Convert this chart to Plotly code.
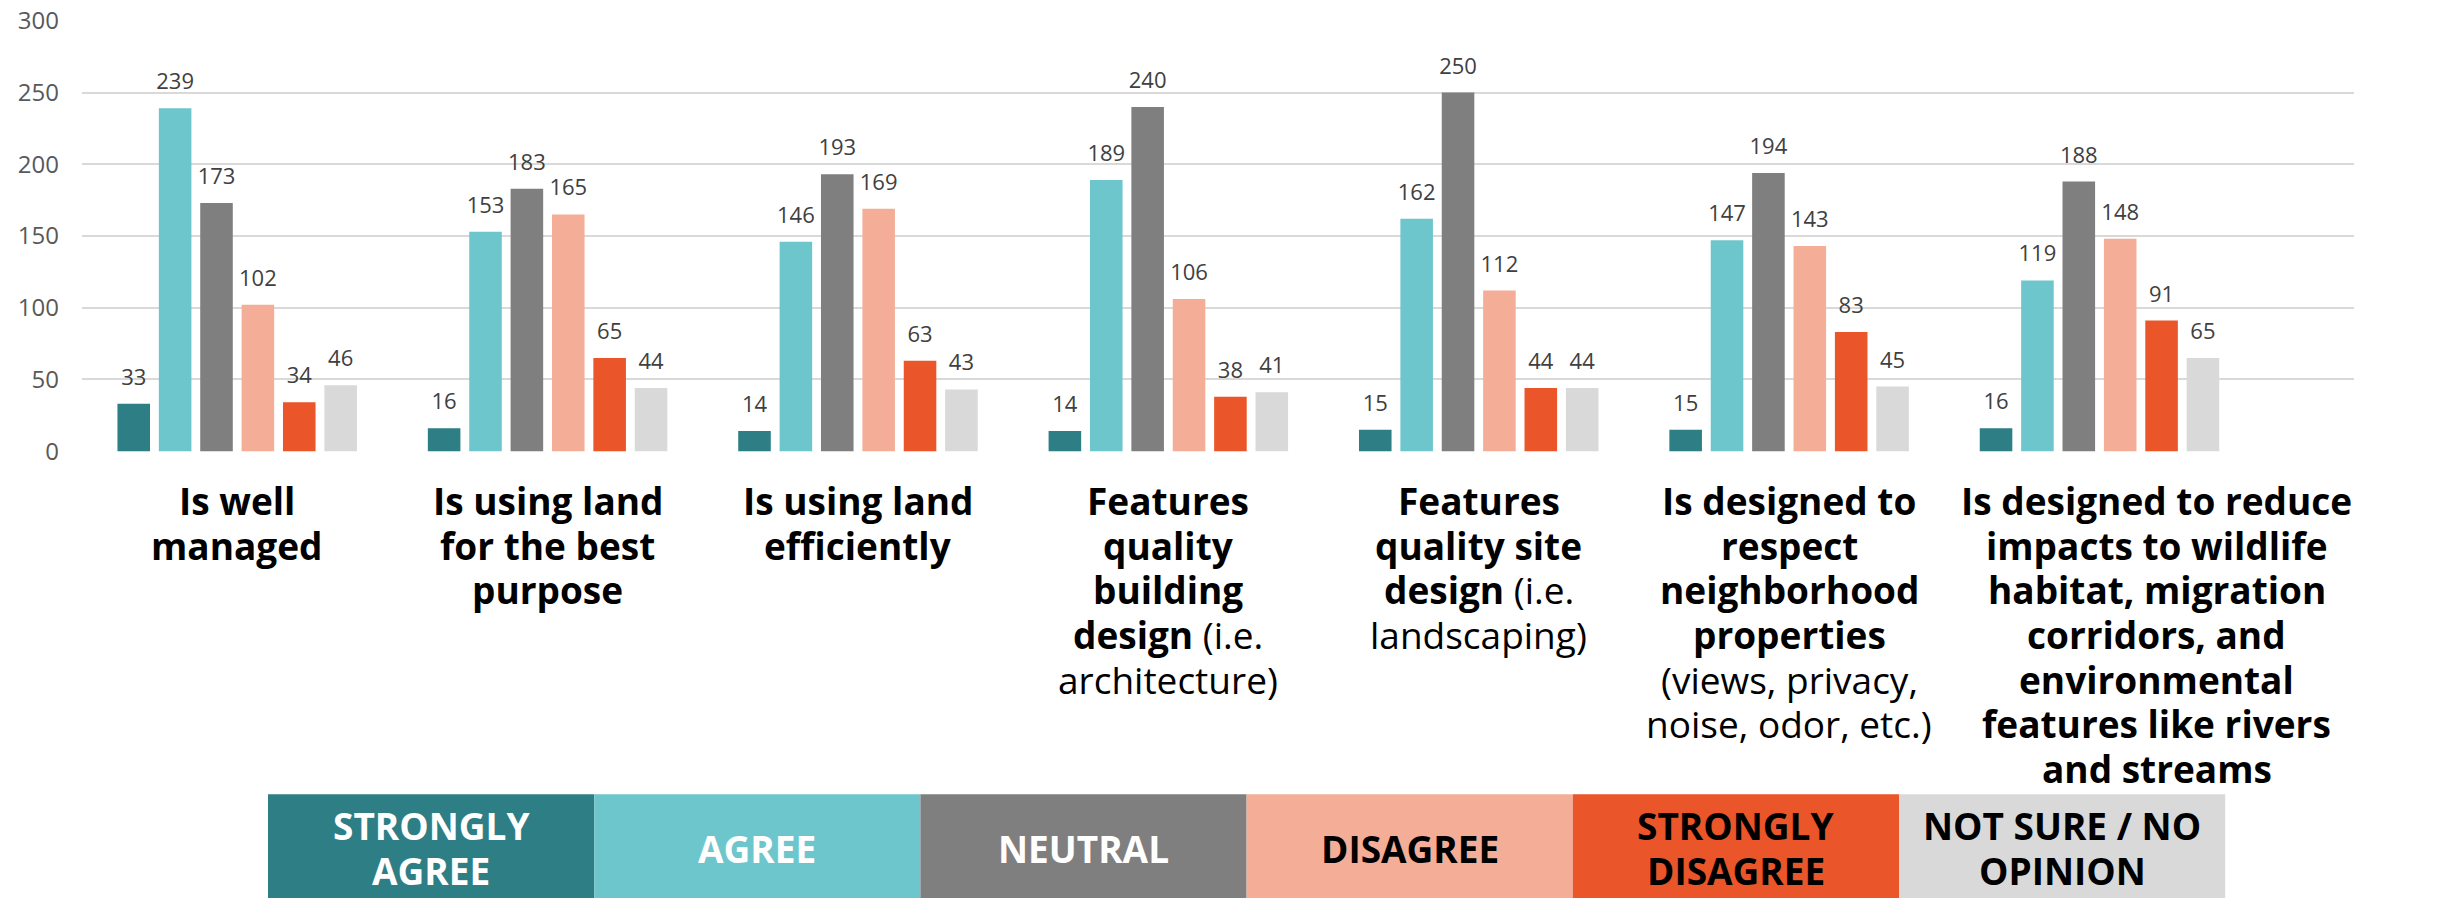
import plotly.graph_objects as go

categories = ["Is well managed", "Is using land for the best purpose", "Is using land efficiently",
              "Features quality building design", "Features quality site design",
              "Is designed to respect neighborhood properties",
              "Is designed to reduce impacts to wildlife habitat"]

category_labels = [
    "<b>Is well</b><br><b>managed</b>",
    "<b>Is using land</b><br><b>for the best</b><br><b>purpose</b>",
    "<b>Is using land</b><br><b>efficiently</b>",
    "<b>Features</b><br><b>quality</b><br><b>building</b><br><b>design</b> (i.e.<br>architecture)",
    "<b>Features</b><br><b>quality site</b><br><b>design</b> (i.e.<br>landscaping)",
    "<b>Is designed to</b><br><b>respect</b><br><b>neighborhood</b><br><b>properties</b><br>(views, privacy,<br>noise, odor, etc.)",
    "<b>Is designed to reduce</b><br><b>impacts to wildlife</b><br><b>habitat, migration</b><br><b>corridors, and</b><br><b>environmental</b><br><b>features like rivers</b><br><b>and streams</b>",
]

series_names = ["STRONGLY<br>AGREE", "AGREE", "NEUTRAL", "DISAGREE", "STRONGLY<br>DISAGREE", "NOT SURE / NO<br>OPINION"]

strongly_agree = [33, 16, 14, 14, 15, 15, 16]
agree = [239, 153, 146, 189, 162, 147, 119]
neutral = [173, 183, 193, 240, 250, 194, 188]
disagree = [102, 165, 169, 106, 112, 143, 148]
strongly_disagree = [34, 65, 63, 38, 44, 83, 91]
not_sure = [46, 44, 43, 41, 44, 45, 65]

series_values = [strongly_agree, agree, neutral, disagree, strongly_disagree, not_sure]
colors = ["#2D7E85", "#6EC6CD", "#7F7F7F", "#F4AE98", "#EA5529", "#D9D9D9"]
legend_text_colors = ["#FFFFFF", "#FFFFFF", "#FFFFFF", "#000000", "#000000", "#000000"]

y_ticks = [0, 50, 100, 150, 200, 250, 300]

# ---- layout constants (pixels) ----
W, H = 2455, 898
PAD_V = 0.6                      # small padding so the 0 and 300 gridlines are drawn
PPU = 430 / 300                  # pixels per unit
L, R = 82, 2354
T, B = 21 - PAD_V * PPU, 451 + PAD_V * PPU
PW, PH = R - L, B - T
FONT = "Open Sans"
LABEL_SIZE = 37
LINE_STEP = 44.6


def px_x(px):
    return (px - L) / PW


def px_y(py):
    return (B - py) / PH


fig = go.Figure()

for name, vals, col in zip(series_names, series_values, colors):
    fig.add_trace(go.Bar(
        x=categories, y=vals, name=name.replace("<br>", " "),
        marker=dict(color=col, line=dict(width=0)),
        showlegend=False, hoverinfo="skip",
    ))

# data labels placed above bars via grouped scatter text
for name, vals in zip(series_names, series_values):
    fig.add_trace(go.Scatter(
        x=categories, y=vals, mode="markers+text",
        text=[str(v) for v in vals], textposition="top center",
        textfont=dict(family=FONT, size=22, color="#404040"),
        marker=dict(size=20, color="rgba(0,0,0,0)"),
        showlegend=False, hoverinfo="skip", cliponaxis=False,
    ))

annotations = []
# category labels, one annotation per line
for i, (cat, lab) in enumerate(zip(categories, category_labels)):
    xshift = 57 if i == len(categories) - 1 else 0
    for j, line in enumerate(lab.split("<br>")):
        annotations.append(dict(
            x=cat, xref="x", y=px_y(451), yref="paper",
            text=line, showarrow=False, xanchor="center", yanchor="middle",
            xshift=xshift, yshift=-(49.5 + j * LINE_STEP),
            font=dict(family=FONT, size=LABEL_SIZE, color="#000000"),
        ))

# legend as coloured boxes
shapes = []
LEG_X0, LEG_W = 268, 326.2
LEG_Y0, LEG_Y1 = 794, 898
for k, (name, col, tcol) in enumerate(zip(series_names, colors, legend_text_colors)):
    x0 = LEG_X0 + k * LEG_W
    x1 = x0 + LEG_W
    shapes.append(dict(type="rect", xref="paper", yref="paper",
                       x0=px_x(x0), x1=px_x(x1), y0=px_y(LEG_Y1 + 2), y1=px_y(LEG_Y0),
                       fillcolor=col, line=dict(width=0), layer="above"))
    lines = name.split("<br>")
    cy = (LEG_Y0 + LEG_Y1) / 2 + 2
    n = len(lines)
    for j, line in enumerate(lines):
        ly = cy + (j - (n - 1) / 2) * 45
        annotations.append(dict(
            x=px_x((x0 + x1) / 2), xref="paper", y=px_y(ly), yref="paper",
            text=f"<b>{line}</b>", showarrow=False, xanchor="center", yanchor="middle",
            font=dict(family=FONT, size=LABEL_SIZE, color=tcol),
        ))

fig.update_layout(
    width=W, height=H,
    margin=dict(l=L, r=W - R, t=T, b=H - B, pad=0, autoexpand=False),
    barmode="group", bargap=0.20, bargroupgap=0.213,
    scattermode="group", scattergap=0.20,
    plot_bgcolor="white", paper_bgcolor="white",
    font=dict(family=FONT),
    xaxis=dict(showticklabels=False, showgrid=False, zeroline=False, showline=False, ticks=""),
    yaxis=dict(range=[-PAD_V, 300 + PAD_V], tickvals=y_ticks, showgrid=True, gridcolor="#D9D9D9",
               gridwidth=2, zeroline=False, showline=False, ticks="", ticklabelstandoff=22,
               automargin=False,
               tickfont=dict(family=FONT, size=24, color="#595959")),
    annotations=annotations, shapes=shapes,
)

fig.write_html("out.html", config={"displayModeBar": False},
               post_script="document.body.style.margin='0';document.body.style.overflow='hidden';")
